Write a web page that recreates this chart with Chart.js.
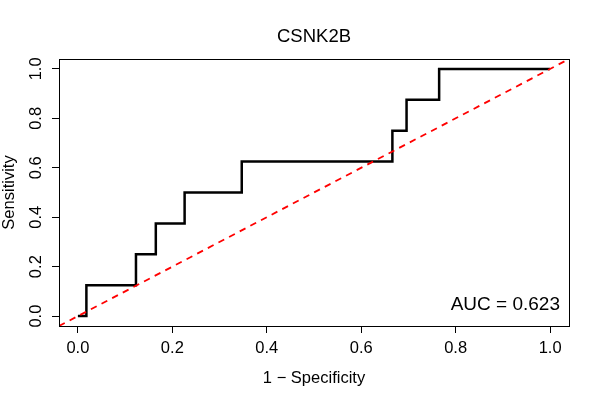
<!DOCTYPE html>
<html>
<head>
<meta charset="utf-8">
<script src="https://cdn.jsdelivr.net/npm/chart.js@4/dist/chart.umd.min.js"></script>
<style>
  body { margin: 0; background: #fff; }
  #roc { display: block; }
</style>
</head>
<body>
<canvas id="roc" width="600" height="400"></canvas>
<script>
// punkty krzywej ROC
const fpr = [0, 0.018, 0.018, 0.123, 0.123, 0.165, 0.165, 0.226, 0.226, 0.347, 0.347, 0.666, 0.666, 0.696, 0.696, 0.765, 0.765, 1.0];
const tpr = [0, 0, 0.125, 0.125, 0.25, 0.25, 0.375, 0.375, 0.5, 0.5, 0.625, 0.625, 0.75, 0.75, 0.875, 0.875, 1.0, 1.0];
// linia odniesienia y = x, na całą szerokość obszaru wykresu
const diagonal = [-0.04, 1.04];
const tickValues = [0, 0.2, 0.4, 0.6, 0.8, 1.0];
const tickLabels = ['0.0', '0.2', '0.4', '0.6', '0.8', '1.0'];
const axisLimits = [-0.04, 1.04];
const chartTitle = 'CSNK2B';
const xTitle = '1 \u2212 Specificity';
const yTitle = 'Sensitivity';
const aucText = 'AUC = 0.623';

const FONT = '"Liberation Sans", Arial, Helvetica, sans-serif';
Chart.defaults.font.family = FONT;
Chart.defaults.color = '#000';

// tytuł, opisy osi Y i AUC rysowane ręcznie (obrót etykiet jak w R)
const textPlugin = {
  id: 'rtext',
  afterDraw(chart) {
    const ctx = chart.ctx;
    const a = chart.chartArea;
    const ys = chart.scales.y;
    ctx.save();
    ctx.strokeStyle = '#000';
    ctx.lineWidth = 1;
    ctx.strokeRect(Math.round(a.left) + 0.5, Math.round(a.top) + 0.5,
      Math.round(a.right - a.left), Math.round(a.bottom - a.top));

    ctx.fillStyle = '#000';
    ctx.textAlign = 'center';
    ctx.textBaseline = 'middle';
    const cx = (a.left + a.right) / 2;
    const cy = (a.top + a.bottom) / 2;

    ctx.font = '18.5px ' + FONT;
    ctx.fillText(chartTitle, cx, 37);

    ctx.font = '16.5px ' + FONT;
    ctx.fillText(xTitle, cx, 378);

    ctx.save();
    ctx.translate(9, cy);
    ctx.rotate(-Math.PI / 2);
    ctx.fillText(yTitle, 0, 0);
    ctx.restore();

    tickValues.forEach((v, i) => {
      ctx.save();
      ctx.translate(36, ys.getPixelForValue(v));
      ctx.rotate(-Math.PI / 2);
      ctx.fillText(tickLabels[i], 0, 0);
      ctx.restore();
    });

    ctx.font = '19px ' + FONT;
    ctx.textAlign = 'right';
    ctx.fillText(aucText, 560, 305);
    ctx.restore();
  }
};

const ctx = document.getElementById('roc').getContext('2d');
new Chart(ctx, {
  type: 'scatter',
  data: {
    datasets: [{
      label: 'diagonal',
      data: diagonal.map(v => ({x: v, y: v})),
      showLine: true,
      borderColor: '#ff0000',
      borderWidth: 1.8,
      borderDash: [6.5, 5.5],
      pointRadius: 0
    }, {
      label: 'ROC',
      data: fpr.map((x, i) => ({x: x, y: tpr[i]})),
      showLine: true,
      borderColor: '#000',
      borderWidth: 2.5,
      pointRadius: 0,
      tension: 0
    }]
  },
  options: {
    responsive: false,
    animation: false,
    devicePixelRatio: 1,
    layout: { padding: { top: 59, right: 31, left: 0, bottom: 0 } },
    plugins: {
      legend: { display: false },
      tooltip: { enabled: false }
    },
    scales: {
      x: {
        type: 'linear',
        min: axisLimits[0],
        max: axisLimits[1],
        afterFit: s => { s.height = 74; },
        afterBuildTicks: s => { s.ticks = tickValues.map(v => ({value: v})); },
        grid: { drawOnChartArea: false, drawTicks: true, tickLength: 7, color: '#000' },
        border: { display: true, color: '#000' },
        ticks: {
          font: { size: 16.5 },
          padding: 6,
          maxRotation: 0,
          callback: (v) => tickLabels[tickValues.indexOf(v)]
        }
      },
      y: {
        type: 'linear',
        min: axisLimits[0],
        max: axisLimits[1],
        afterFit: s => { s.width = 59; },
        afterBuildTicks: s => { s.ticks = tickValues.map(v => ({value: v})); },
        grid: { drawOnChartArea: false, drawTicks: true, tickLength: 7, color: '#000' },
        border: { display: true, color: '#000' },
        ticks: { display: false }
      }
    }
  },
  plugins: [textPlugin]
});
</script>
</body>
</html>
